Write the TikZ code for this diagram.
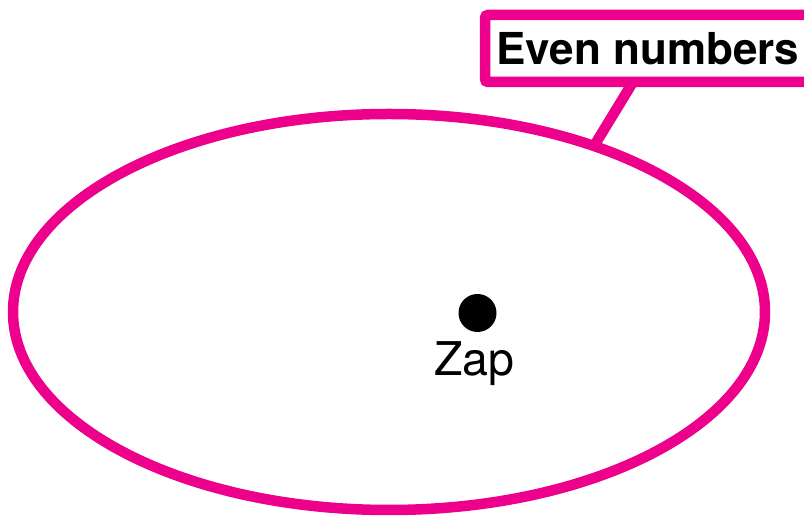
\documentclass[tikz,border=0pt]{standalone}
\usepackage{fontspec}
\setmainfont{TeX Gyre Heros}
\usetikzlibrary{shapes.geometric}
\usetikzlibrary{positioning}

\definecolor{setpink}{RGB}{236,0,140}

\begin{document}
\begin{tikzpicture}[x=1pt, y=1pt,
    every node/.style={outer sep=0pt},
    setline/.style={draw=setpink, line width=10.5pt},
    tagbox/.style={setline, rectangle, rounded corners=3pt, fill=white,
      minimum width=326pt, minimum height=67pt, inner sep=0pt,
      font=\fontsize{44}{48}\selectfont\bfseries},
    elem/.style={circle, fill=black, minimum size=38pt, inner sep=0pt},
    elemtext/.style={inner sep=0pt, font=\fontsize{46.5}{50}\selectfont}]

      % Page size of the reference
      \useasboundingbox (0, 0) rectangle (804, 516);

      % Set of even numbers
      \node[setline, ellipse, minimum width=752pt, minimum height=396pt, inner sep=0pt] (evens) at (389, 204) {};

      % Its name tag
      \node[tagbox] (tag) at (648, 467.5) {Even numbers};

      % Tag line from the name to the set
      \draw[setline, draw=setpink] ([xshift=-15pt]tag.south) -- (evens.39.5);

      % One element inside the set
      \node[elem] (zap) at (477.5, 203) {};
      \node[elemtext, below=10pt of zap, xshift=-3pt] (zaptext) {Zap};

    \end{tikzpicture}
\end{document}
